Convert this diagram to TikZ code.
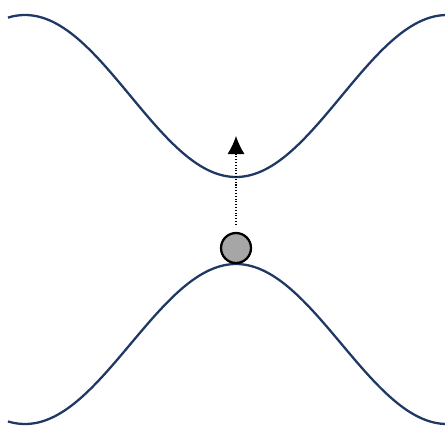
\documentclass[tikz,border=0pt]{standalone}
\usepackage{tikz}
\usetikzlibrary{arrows.meta}
\definecolor{bandblau}{RGB}{31,56,100}
\definecolor{kugelgrau}{RGB}{166,166,166}

\begin{document}
\begin{tikzpicture}[x=0.02cm, y=-0.02cm,
				>={Latex[length=3.6mm,width=3.4mm]},   %Pfeilspitzen
				band/.style={color=bandblau, line width=1.3pt},
				kugel/.style={circle, draw=black, fill=kugelgrau, line width=1.3pt, minimum size=0.6cm, inner sep=0pt}]
				%Bildbereich
				\useasboundingbox (0,0) rectangle (445,427);
				% Baender zeichnen
				\draw[band, smooth, samples=90, domain=8:445] plot (\x, {96+81*cos((\x-236)*0.85308)});
				\draw[band, smooth, samples=90, domain=8:445] plot (\x, {344-80*cos((\x-236)*0.85308)});
				% Teilchen
				\node[kugel] (teilchen) at (236,248) {};
				\coordinate (ziel) at (236,136);
				% Anregung
				\draw[->, densely dotted, line width=0.6pt, shorten <=0.14cm] (teilchen.north) -- (ziel);
			\end{tikzpicture}
\end{document}
